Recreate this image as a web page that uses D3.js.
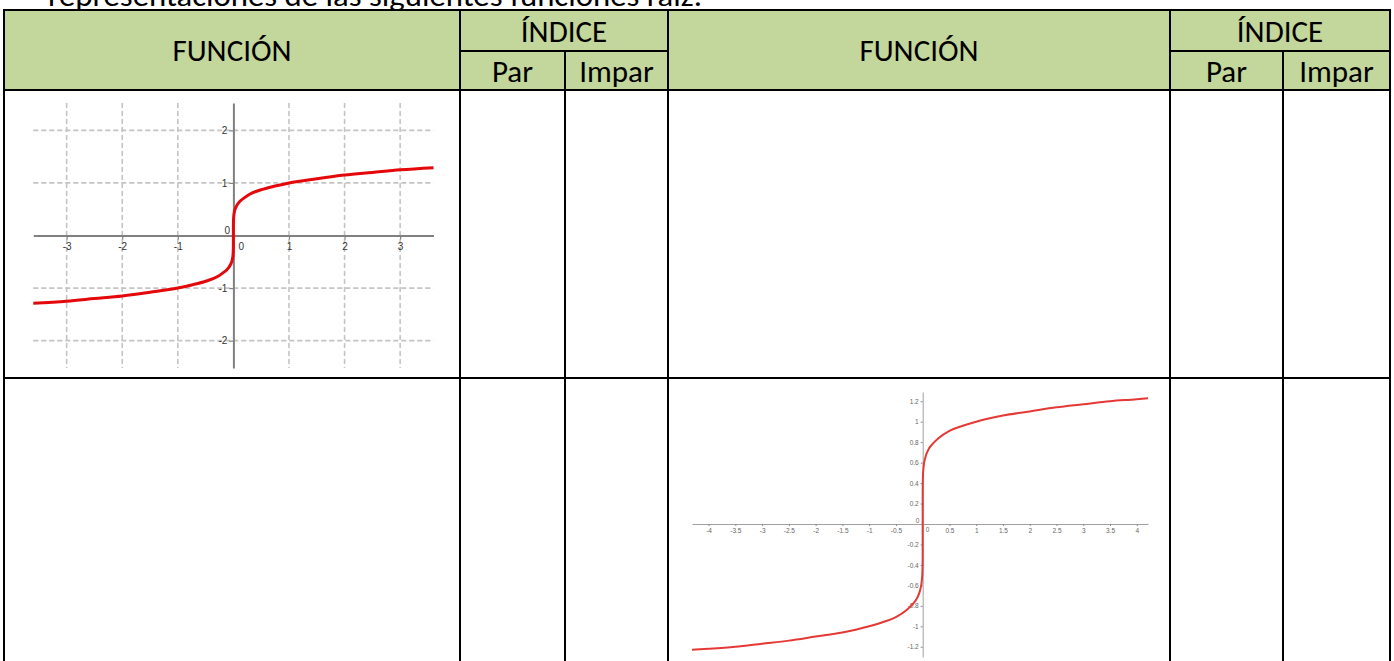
<!DOCTYPE html>
<html><head><meta charset="utf-8">
<script src="https://cdn.jsdelivr.net/npm/d3@7"></script>
<style>body{margin:0;background:#fff;overflow:hidden} svg{display:block}</style>
</head><body><svg id="c" width="1394" height="661"></svg>
<script>
// ---------- data ----------
const introText = "representaciones de las siguientes funciones raíz.";
const headerFuncion = "FUNCIÓN";
const headerIndice = "ÍNDICE";
const indexTypes = ["Par", "Impar"];

// graph 1 (top-left cell)
const g1X = [-3.6,-3,-2.5,-2,-1.5,-1,-0.75,-0.5,-0.3,-0.2,-0.1,-0.05,-0.02,-0.005,-0.001,-0.0001,0,0.0001,0.001,0.005,0.02,0.05,0.1,0.2,0.3,0.5,0.75,1,1.5,2,2.5,3,3.6];
const g1Y = [-1.29,-1.25,-1.2,-1.15,-1.08,-1,-0.94,-0.87,-0.79,-0.72,-0.63,-0.55,-0.46,-0.35,-0.25,-0.16,0,0.16,0.25,0.35,0.46,0.55,0.63,0.72,0.79,0.87,0.94,1,1.08,1.15,1.2,1.25,1.29];
const g1XTicks = [-3,-2,-1,1,2,3];
const g1YTicks = [-2,-1,1,2];

// graph 2 (bottom-right cell)
const g2X = [-4.31,-4,-3.5,-3,-2.5,-2,-1.5,-1,-0.75,-0.5,-0.3,-0.2,-0.1,-0.05,-0.02,-0.005,-0.001,-0.0001,0,0.0001,0.001,0.005,0.02,0.05,0.1,0.2,0.3,0.5,0.75,1,1.5,2,2.5,3,3.5,4,4.21];
const g2Y = [-1.23,-1.22,-1.2,-1.17,-1.14,-1.1,-1.06,-1,-0.96,-0.91,-0.84,-0.79,-0.72,-0.65,-0.57,-0.47,-0.37,-0.27,0,0.27,0.37,0.47,0.57,0.65,0.72,0.79,0.84,0.91,0.96,1,1.06,1.1,1.14,1.17,1.2,1.22,1.23];
const g2XTicks = [-4,-3.5,-3,-2.5,-2,-1.5,-1,-0.5,0.5,1,1.5,2,2.5,3,3.5,4];
const g2YTicks = [-1.2,-1,-0.8,-0.6,-0.4,-0.2,0.2,0.4,0.6,0.8,1,1.2];

// ---------- drawing ----------
const svg = d3.select("#c");
const FONT = "Calibri, Carlito, Lato, 'Open Sans', sans-serif";
const TICKFONT = "'Liberation Sans', Arial, sans-serif";

// intro line (cut at top, as in the reference)
svg.append("text").attr("x", 48).attr("y", 6)
  .attr("font-family", FONT).attr("font-size", 31).attr("fill", "#000")
  .attr("textLength", 654).attr("lengthAdjust", "spacingAndGlyphs")
  .text(introText);

// table geometry
const L = 4, R = 1390, T = 10, HM = 51, HB = 90, RS = 378, B = 668;
const cols = [L, 460, 565, 668, 1170, 1283, R];

// header fill
svg.append("rect").attr("x", L).attr("y", T).attr("width", R - L).attr("height", HB - T).attr("fill", "#C3D69B");

// header texts
const hdr = svg.append("g").attr("font-family", FONT).attr("fill", "#000").attr("text-anchor", "middle").attr("font-size", 31);
[[cols[0], cols[1], cols[2], cols[3]], [cols[3], cols[4], cols[5], cols[6]]].forEach(([a, b, c, d]) => {
  hdr.append("text").attr("x", (a + b) / 2).attr("y", 61).text(headerFuncion);
  hdr.append("text").attr("x", (b + d) / 2).attr("y", 42).text(headerIndice);
  hdr.append("text").attr("x", (b + c) / 2).attr("y", 82).text(indexTypes[0]);
  hdr.append("text").attr("x", (c + d) / 2).attr("y", 82).text(indexTypes[1]);
});

// ---------- graph 1 ----------
const x1 = d3.scaleLinear().domain([-3.6, 3.6]).range([33.3, 433.5]);
const y1 = d3.scaleLinear().domain([-2.52, 2.52]).range([368, 103]);
const g1 = svg.append("g");
const grid = g1.append("g").attr("stroke", "#c4c4c4").attr("stroke-width", 1.6).attr("stroke-dasharray", "5,3");
grid.selectAll("line.v").data(g1XTicks).join("line")
  .attr("x1", d => x1(d)).attr("x2", d => x1(d)).attr("y1", y1.range()[1]).attr("y2", y1.range()[0]);
grid.selectAll("line.h").data(g1YTicks).join("line").attr("class", "h")
  .attr("y1", d => y1(d)).attr("y2", d => y1(d)).attr("x1", x1.range()[0]).attr("x2", x1.range()[1]);

const ax1 = g1.append("g").attr("transform", `translate(0,${y1(0)})`)
  .call(d3.axisBottom(x1).tickValues(g1XTicks).tickSize(4).tickSizeOuter(0).tickPadding(3).tickFormat(d => String(d)));
const ay1 = g1.append("g").attr("transform", `translate(${x1(0)},0)`)
  .call(d3.axisLeft(y1).tickValues(g1YTicks).tickSize(4).tickSizeOuter(0).tickPadding(2).tickFormat(d => String(d)));
[ax1, ay1].forEach(a => {
  a.select(".domain").attr("stroke", "#808080").attr("stroke-width", 2);
  a.selectAll(".tick line").attr("stroke", "#808080").attr("stroke-width", 1.2);
  a.selectAll("text").attr("fill", "#333").attr("font-family", TICKFONT).attr("font-size", 10);
});
g1.append("text").attr("x", x1(0) + 8).attr("y", y1(0) + 14).attr("text-anchor", "middle")
  .attr("font-family", TICKFONT).attr("font-size", 10).attr("fill", "#333").text("0");
g1.append("text").attr("x", x1(0) - 6).attr("y", y1(0) - 2).attr("text-anchor", "middle")
  .attr("font-family", TICKFONT).attr("font-size", 10).attr("fill", "#333").text("0");

const line1 = d3.line().x((d, i) => x1(g1X[i])).y(d => y1(d)).curve(d3.curveMonotoneX);
g1.append("path").attr("d", line1(g1Y)).attr("fill", "none").attr("stroke", "#e4080a").attr("stroke-width", 3).attr("stroke-linejoin", "round");

// ---------- graph 2 ----------
const x2 = d3.scaleLinear().domain([-4.31, 4.21]).range([692, 1148]);
const y2 = d3.scaleLinear().domain([-1.3, 1.29]).range([657, 392]);
const g2 = svg.append("g");
const ax2 = g2.append("g").attr("transform", `translate(0,${y2(0)})`)
  .call(d3.axisBottom(x2).tickValues(g2XTicks).tickSize(2).tickSizeOuter(0).tickPadding(2).tickFormat(d => String(d)));
const ay2 = g2.append("g").attr("transform", `translate(${x2(0)},0)`)
  .call(d3.axisLeft(y2).tickValues(g2YTicks).tickSize(2).tickSizeOuter(0).tickPadding(2).tickFormat(d => String(d)));
[ax2, ay2].forEach(a => {
  a.select(".domain").attr("stroke", "#a0a0a0").attr("stroke-width", 1);
  a.selectAll(".tick line").attr("stroke", "#888").attr("stroke-width", 1);
  a.selectAll("text").attr("fill", "#666").attr("font-family", TICKFONT).attr("font-size", 6.5);
});
g2.append("text").attr("x", x2(0) + 5).attr("y", y2(0) + 8).attr("text-anchor", "middle")
  .attr("font-family", TICKFONT).attr("font-size", 6.5).attr("fill", "#666").text("0");
g2.append("text").attr("x", x2(0) - 5).attr("y", y2(0) - 1).attr("text-anchor", "middle")
  .attr("font-family", TICKFONT).attr("font-size", 6.5).attr("fill", "#666").text("0");
const line2 = d3.line().x((d, i) => x2(g2X[i])).y(d => y2(d)).curve(d3.curveMonotoneX);
g2.append("path").attr("d", line2(g2Y)).attr("fill", "none").attr("stroke", "#e53935").attr("stroke-width", 2);

// ---------- table lines ----------
const lines = svg.append("g").attr("stroke", "#000").attr("stroke-width", 2).attr("stroke-linecap", "square");
lines.append("line").attr("x1", L).attr("x2", R).attr("y1", T).attr("y2", T);
lines.append("line").attr("x1", L).attr("x2", R).attr("y1", HB).attr("y2", HB);
lines.append("line").attr("x1", L).attr("x2", R).attr("y1", RS).attr("y2", RS);
lines.append("line").attr("x1", cols[1]).attr("x2", cols[3]).attr("y1", HM).attr("y2", HM);
lines.append("line").attr("x1", cols[4]).attr("x2", cols[6]).attr("y1", HM).attr("y2", HM);
[cols[0], cols[1], cols[3], cols[4], cols[6]].forEach(x =>
  lines.append("line").attr("x1", x).attr("x2", x).attr("y1", T).attr("y2", B));
[cols[2], cols[5]].forEach(x =>
  lines.append("line").attr("x1", x).attr("x2", x).attr("y1", HM).attr("y2", B));
</script></body></html>
